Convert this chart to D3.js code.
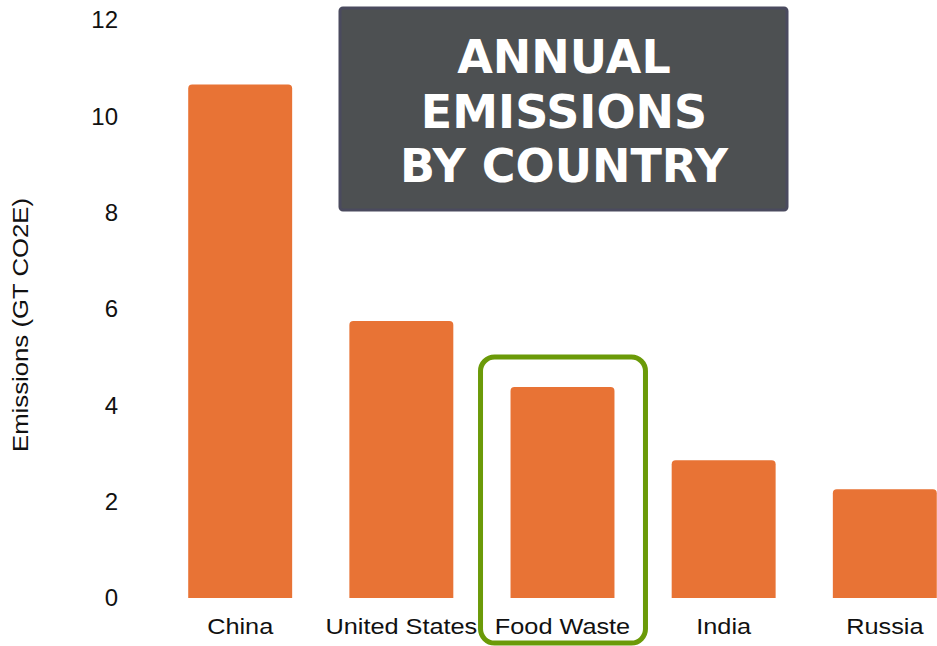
<!DOCTYPE html>
<html>
<head>
<meta charset="utf-8">
<script src="https://cdn.jsdelivr.net/npm/d3@7"></script>
<style>
    body { margin: 0; background: #fff; }
    svg { display: block; }
</style>
</head>
<body>
<svg id="chart"></svg>
<script>
// Chart data
const categories = ["China", "United States", "Food Waste", "India", "Russia"];
const emissions = [10.66, 5.75, 4.38, 2.86, 2.26];
const yTicks = [0, 2, 4, 6, 8, 10, 12];
const titleLines = ["ANNUAL", "EMISSIONS", "BY COUNTRY"];
const highlight = "Food Waste";

const width = 937;
const height = 646;
const labelFont = "Liberation Sans, Arial, sans-serif";

let svg = d3.select("#chart")
    .attr("width", width)
    .attr("height", height);

// Scales
let yScale = d3.scaleLinear()
    .domain([0, 12])
    .range([598, 20]);

let xScale = d3.scaleBand()
    .domain(categories)
    .range([131, 994])
    .paddingInner(0.355)
    .paddingOuter(0.355);

// Y axis (labels only)
let yAxis = g => g
    .attr("transform", "translate(118,0)")
    .call(d3.axisLeft(yScale).tickValues(yTicks).tickSize(0).tickPadding(0))
    .call(g => g.selectAll(".domain").remove())
    .call(g => g.selectAll("text")
        .attr("font-family", labelFont)
        .attr("font-size", 24)
        .attr("fill", "#111"));

svg.append("g").call(yAxis);

// X axis (labels only), glyphs a bit wide like the original
let xAxis = g => g
    .attr("transform", `translate(0,${yScale(0)})`)
    .call(d3.axisBottom(xScale).tickSize(0))
    .call(g => g.selectAll(".domain").remove())
    .call(g => g.selectAll("text")
        .attr("y", 0)
        .attr("dy", 0)
        .attr("transform", "translate(0,36) scale(1.15,1)")
        .attr("font-family", labelFont)
        .attr("font-size", 22)
        .attr("fill", "#111"));

svg.append("g").call(xAxis);

// Axis title
svg.append("text")
    .attr("transform", "translate(28,325) rotate(-90) scale(1.17,1)")
    .attr("text-anchor", "middle")
    .attr("font-family", labelFont)
    .attr("font-size", 22)
    .attr("fill", "#111")
    .text("Emissions (GT CO2E)");

// Bars with slightly rounded tops
const r = 4;
let barPath = (x, y, w, h) =>
    `M${x},${y + h}V${y + r}Q${x},${y} ${x + r},${y}H${x + w - r}Q${x + w},${y} ${x + w},${y + r}V${y + h}Z`;

let bars = categories.map((c, i) => ({ name: c, value: emissions[i] }));

svg.append("g")
    .selectAll("path")
    .data(bars)
    .join("path")
    .attr("d", d => barPath(xScale(d.name), yScale(d.value), xScale.bandwidth(), yScale(0) - yScale(d.value)))
    .attr("fill", "#e87335");

// Highlight box around Food Waste
let hx = xScale(highlight);
let hv = emissions[categories.indexOf(highlight)];
svg.append("rect")
    .attr("x", hx - 30)
    .attr("y", yScale(hv) - 30)
    .attr("width", xScale.bandwidth() + 61)
    .attr("height", yScale(0) - yScale(hv) + 75)
    .attr("rx", 14)
    .attr("fill", "none")
    .attr("stroke", "#6b9a08")
    .attr("stroke-width", 5);

// Title box
let title = svg.append("g");
title.append("rect")
    .attr("x", 340)
    .attr("y", 8)
    .attr("width", 447)
    .attr("height", 202)
    .attr("rx", 3)
    .attr("fill", "#4d5052")
    .attr("stroke", "#4a4a5e")
    .attr("stroke-width", 3);

title.selectAll("text")
    .data(titleLines)
    .join("text")
    .attr("x", 564)
    .attr("y", (d, i) => 73 + i * 54.5)
    .attr("text-anchor", "middle")
    .attr("font-family", "DejaVu Sans, Verdana, sans-serif")
    .attr("font-weight", "bold")
    .attr("font-size", 46)
    .attr("fill", "#fff")
    .text(d => d);
</script>
</body>
</html>
